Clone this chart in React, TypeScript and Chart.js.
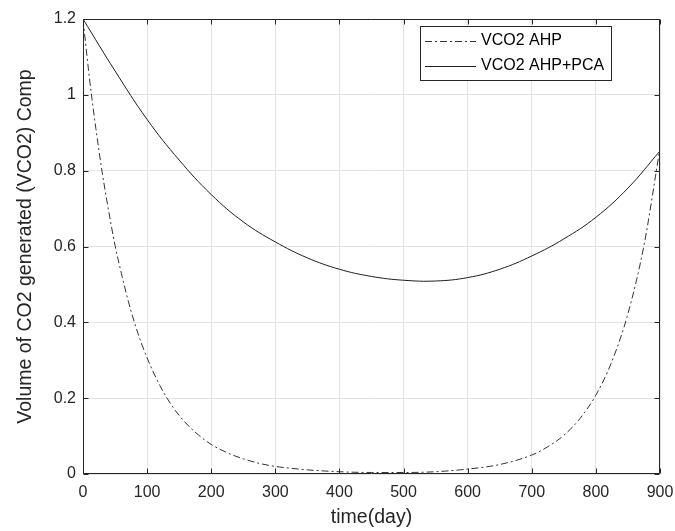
import React, { useEffect, useRef } from "react";
import { Chart, registerables } from "chart.js";

Chart.register(...registerables);

// ---- data ----
const ahpDays = [0, 10, 20, 30, 40, 50, 60, 70, 80, 90, 100, 120, 140, 160, 180, 200, 225, 250, 275, 300, 350, 400, 450, 500, 550, 600, 650, 700, 725, 750, 775, 800, 825, 850, 875, 900];
const ahpValues = [1.2, 1.045, 0.912, 0.795, 0.694, 0.603, 0.528, 0.46, 0.401, 0.35, 0.306, 0.233, 0.177, 0.135, 0.103, 0.078, 0.056, 0.04, 0.028, 0.02, 0.011, 0.006, 0.004, 0.004, 0.006, 0.013, 0.025, 0.05, 0.072, 0.102, 0.146, 0.208, 0.297, 0.423, 0.603, 0.86];

const pcaDays = [0, 50, 100, 150, 200, 250, 300, 350, 400, 450, 500, 550, 600, 650, 700, 750, 800, 850, 900];
const pcaValues = [1.2, 1.063, 0.935, 0.828, 0.737, 0.665, 0.612, 0.57, 0.54, 0.521, 0.511, 0.509, 0.518, 0.54, 0.575, 0.62, 0.677, 0.754, 0.852];

const seriesLabels = ["VCO2 AHP", "VCO2 AHP+PCA"];
const xTitle = "time(day)";
const yTitle = "Volume of CO2 generated (VCO2) Comp";
const xRange = [0, 900];
const yRange = [0, 1.2];
const xStep = 100;
const yStep = 0.2;

const FONT = "'Liberation Sans', Arial, Helvetica, sans-serif";
const INK = "#262626";

const framePlugin = {
  id: "matlabFrame",
  afterDatasetsDraw(chart: any) {
    const { ctx, chartArea: a, scales } = chart;
    ctx.save();
    ctx.strokeStyle = INK;
    ctx.lineWidth = 1;
    const L = Math.round(a.left) + 0.5;
    const R = Math.round(a.right) - 0.5;
    const T = Math.round(a.top) + 0.5;
    const B = Math.round(a.bottom) - 0.5;
    ctx.beginPath();
    ctx.rect(L, T, R - L, B - T);
    ctx.stroke();
    const tl = 5;
    ctx.beginPath();
    for (const t of scales.x.ticks) {
      const px = Math.round(scales.x.getPixelForValue(t.value)) + 0.5;
      ctx.moveTo(px, B);
      ctx.lineTo(px, B - tl);
      ctx.moveTo(px, T);
      ctx.lineTo(px, T + tl);
    }
    for (const t of scales.y.ticks) {
      const py = Math.round(scales.y.getPixelForValue(t.value)) + 0.5;
      ctx.moveTo(L, py);
      ctx.lineTo(L + tl, py);
      ctx.moveTo(R, py);
      ctx.lineTo(R - tl, py);
    }
    ctx.stroke();
    ctx.restore();
  },
  afterDraw(chart: any) {
    const { ctx } = chart;
    const box = { x: 420.5, y: 26.5, w: 191, h: 54 };
    const rows = [41, 66];
    ctx.save();
    ctx.fillStyle = "#ffffff";
    ctx.fillRect(box.x, box.y, box.w, box.h);
    ctx.strokeStyle = INK;
    ctx.lineWidth = 1;
    ctx.strokeRect(box.x, box.y, box.w, box.h);
    chart.data.datasets.forEach((ds: any, i: number) => {
      const y = rows[i] + 0.5;
      ctx.beginPath();
      ctx.strokeStyle = ds.borderColor;
      ctx.lineWidth = ds.borderWidth;
      ctx.setLineDash(ds.borderDash || []);
      ctx.moveTo(425, y);
      ctx.lineTo(476, y);
      ctx.stroke();
      ctx.setLineDash([]);
      ctx.fillStyle = "#000000";
      ctx.font = `16px ${FONT}`;
      ctx.textAlign = "left";
      ctx.textBaseline = "middle";
      ctx.fillText(ds.label, 481, rows[i]);
    });
    ctx.restore();
  },
};

export default function App() {
  const canvasRef = useRef<HTMLCanvasElement | null>(null);

  useEffect(() => {
    if (!canvasRef.current) return;
    Chart.defaults.font.family = FONT;
    const chart = new Chart(canvasRef.current, {
      type: "line",
      data: {
        datasets: [
          {
            label: seriesLabels[0],
            data: ahpDays.map((d, i) => ({ x: d, y: ahpValues[i] })),
            borderColor: "#333333",
            borderWidth: 1,
            borderDash: [7, 3, 2, 3],
            pointRadius: 0,
            fill: false,
            cubicInterpolationMode: "monotone",
          },
          {
            label: seriesLabels[1],
            data: pcaDays.map((d, i) => ({ x: d, y: pcaValues[i] })),
            borderColor: "#1e1e1e",
            borderWidth: 1,
            pointRadius: 0,
            fill: false,
            tension: 0.4,
          },
        ],
      },
      options: {
        animation: false,
        responsive: true,
        maintainAspectRatio: false,
        layout: { padding: { top: 19, right: 15, left: 0, bottom: 0 } },
        plugins: {
          legend: { display: false },
          tooltip: { enabled: false },
        },
        scales: {
          x: {
            type: "linear",
            min: xRange[0],
            max: xRange[1],
            afterFit: (s: any) => {
              s.height = 57;
              s.paddingLeft = 0;
              s.paddingRight = 0;
            },
            ticks: {
              stepSize: xStep,
              font: { size: 16 },
              color: INK,
              padding: 9,
              maxRotation: 0,
            },
            grid: { color: "#e3e3e3", drawTicks: false, lineWidth: 1 },
            border: { display: false },
            title: {
              display: true,
              text: xTitle,
              color: INK,
              font: { size: 19.5 },
              padding: { top: 0, bottom: 2 },
            },
          },
          y: {
            type: "linear",
            min: yRange[0],
            max: yRange[1],
            afterFit: (s: any) => {
              s.width = 83;
              s.paddingTop = 0;
              s.paddingBottom = 0;
            },
            ticks: {
              stepSize: yStep,
              font: { size: 16 },
              color: INK,
              padding: 7,
              callback: (v: any) => String(Math.round(Number(v) * 10) / 10),
            },
            grid: { color: "#e3e3e3", drawTicks: false, lineWidth: 1 },
            border: { display: false },
            title: {
              display: true,
              text: yTitle,
              color: INK,
              font: { size: 19.5 },
              padding: { top: 14, bottom: 0 },
            },
          },
        },
      },
      plugins: [framePlugin],
    });
    return () => chart.destroy();
  }, []);

  return (
    <div style={{ position: "fixed", left: 0, top: 0, width: 675, height: 531, background: "#ffffff" }}>
      <canvas ref={canvasRef} />
    </div>
  );
}
